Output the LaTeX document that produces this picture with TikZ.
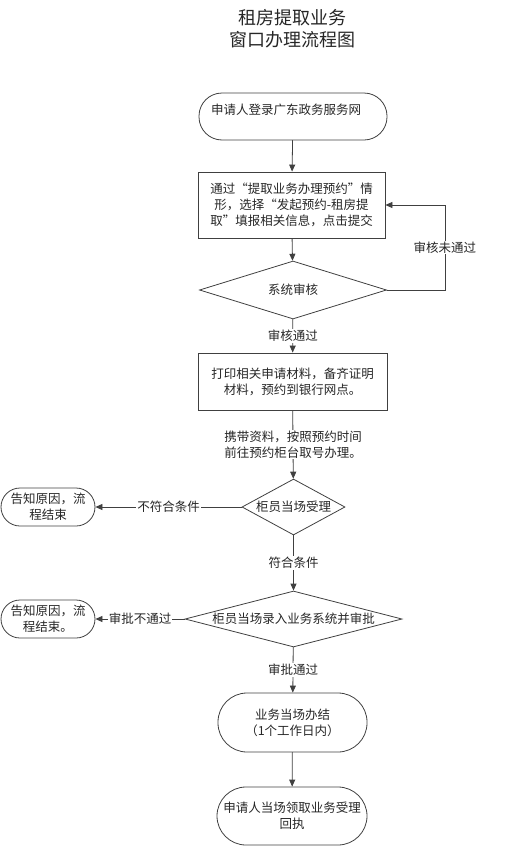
\documentclass[tikz,border=0pt]{standalone}
\usepackage{fontspec}
\setmainfont{Noto Sans CJK SC}
\usetikzlibrary{shapes.geometric,arrows.meta}

\begin{document}
\begin{tikzpicture}[x=1pt, y=-1pt, line cap=round,
    font=\fontsize{12.5}{16}\selectfont,
    line/.style={draw=black!75, line width=0.8pt},
    flow/.style={line, -{Triangle[length=7pt,width=6pt]}},
    procbox/.style={rectangle, line, align=center, text=black!85},
    termbox/.style={rectangle, line, align=center, text=black!85},
    decision/.style={diamond, line, inner sep=0pt, text=black!85},
    tag/.style={fill=white, inner sep=1pt, align=center, text=black!85}]
  \useasboundingbox (0,0) rectangle (525,846);
  % title
  \node[align=center, text=black!85, font=\fontsize{18}{22}\selectfont] (title) at (292,29)
    {租房提取业务\\窗口办理流程图};
  % main column
  \node[termbox, minimum width=188pt, minimum height=47pt, rounded corners=23pt, text depth=15pt]
    (start) at (293,116.5) {申请人登录广东政务服务网\hspace{14pt}};
  \node[procbox, minimum width=187pt, minimum height=66pt] (apply) at (291.5,205)
    {通过“提取业务办理预约”情\\形，选择“发起预约-租房提\\取”填报相关信息，点击提交};
  \node[decision, aspect=3.2, minimum width=187pt, minimum height=58pt] (check) at (293,290) {系统审核};
  \node[procbox, minimum width=189pt, minimum height=57pt] (print) at (292.5,381.5)
    {打印相关申请材料，备齐证明\\材料，预约到银行网点。};
  \node[decision, aspect=1.84, minimum width=103pt, minimum height=56pt] (accept) at (293.5,507) {柜员当场受理};
  \node[decision, aspect=3.9, minimum width=217pt, minimum height=56pt] (approve) at (293.5,619) {柜员当场录入业务系统并审批};
  \node[termbox, minimum width=149pt, minimum height=59pt, rounded corners=29pt] (done) at (292.5,722.5)
    {业务当场办结\\（1个工作日内）};
  \node[termbox, minimum width=150pt, minimum height=58pt, rounded corners=29pt] (receipt) at (292,816)
    {申请人当场领取业务受理\\回执};
  % side ends
  \node[termbox, minimum width=94pt, minimum height=38pt, rounded corners=19pt] (stop1) at (48,507)
    {告知原因，流\\程结束};
  \node[termbox, minimum width=94pt, minimum height=38pt, rounded corners=19pt] (stop2) at (48,619)
    {告知原因，流\\程结束。};
  % connectors
  \draw[flow] (start) -- (apply);
  \draw[flow] (apply) -- (check);
  \draw[flow] (check.east) -- ++(58,0) |- node[tag, pos=0.25] {审核未通过} (apply.east);
  \draw[flow] (check) -- node[tag] {审核通过} (print);
  \draw[flow] (print) -- node[tag, align=left] {携带资料，按照预约时间\\前往预约柜台取号办理。} (accept);
  \draw[flow] (accept.west) -- node[tag] {不符合条件} (stop1.east);
  \draw[flow] (accept) -- node[tag] {符合条件} (approve);
  \draw[flow] (approve.west) -- node[tag] {审批不通过} (stop2.east);
  \draw[flow] (approve) -- node[tag] {审批通过} (done);
  \draw[flow] (done) -- (receipt);
\end{tikzpicture}
\end{document}
